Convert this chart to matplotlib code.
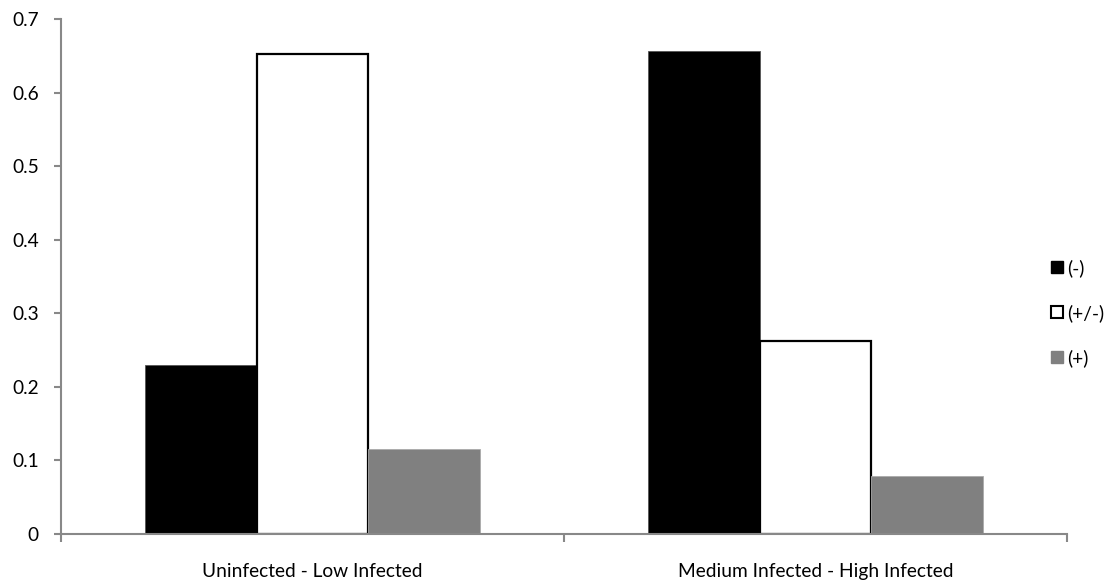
import matplotlib.pyplot as plt
from matplotlib.lines import Line2D

plt.rcParams['font.family'] = ['Lato', 'DejaVu Sans']

# data
categories = ["Uninfected - Low Infected", "Medium Infected - High Infected"]
neg = [0.230, 0.657]
mid = [0.653, 0.263]
pos = [0.115, 0.079]
series_names = ["(-)", "(+/-)", "(+)"]

fig = plt.figure(figsize=(11.11, 5.85), dpi=100)
ax = fig.add_axes([0.0549, 0.0872, 0.9055, 0.8803])

x = [0, 1]
w = 0.2225
ax.bar([i - w for i in x], neg, w, color="black", edgecolor="#555555", linewidth=0.6)
ax.bar(x, mid, w, color="white", edgecolor="black", linewidth=1.6)
ax.bar([i + w for i in x], pos, w, color="#808080", edgecolor="#aaaaaa", linewidth=0.6)

ax.set_xlim(-0.5, 1.5)
ax.set_ylim(0, 0.7)
ax.set_yticks([0, 0.1, 0.2, 0.3, 0.4, 0.5, 0.6, 0.7])
ax.set_yticklabels(["0", "0.1", "0.2", "0.3", "0.4", "0.5", "0.6", "0.7"])
ax.set_xticks(x)
ax.set_xticklabels(categories)
ax.set_xticks([-0.5, 0.5, 1.5], minor=True)

for s in ["top", "right"]:
    ax.spines[s].set_visible(False)
for s in ["left", "bottom"]:
    ax.spines[s].set_color("#888888")
    ax.spines[s].set_linewidth(1.5)

fs = 13.8
ax.tick_params(axis="y", length=5, width=1.5, color="#888888", pad=11, labelsize=fs)
ax.tick_params(axis="x", which="major", length=0, pad=21, labelsize=fs)
ax.tick_params(axis="x", which="minor", length=6, width=1.5, color="#888888")

handles = [
    Line2D([], [], marker="s", linestyle="none", markersize=9, markerfacecolor="black", markeredgecolor="black"),
    Line2D([], [], marker="s", linestyle="none", markersize=9, markerfacecolor="white", markeredgecolor="black", markeredgewidth=1.5),
    Line2D([], [], marker="s", linestyle="none", markersize=9, markerfacecolor="#808080", markeredgecolor="#808080"),
]
fig.legend(handles, series_names, loc="center left", bbox_to_anchor=(0.936, 0.465),
           frameon=False, fontsize=fs, handlelength=0.8, handletextpad=0.1,
           labelspacing=1.4, borderpad=0)

fig.savefig("out.png", dpi=100)
